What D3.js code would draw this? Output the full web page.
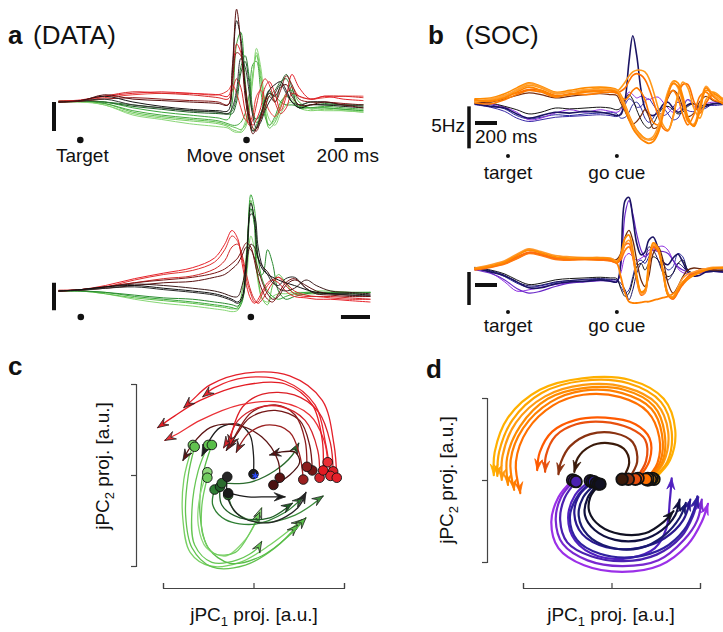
<!DOCTYPE html>
<html><head><meta charset="utf-8">
<script src="https://cdn.jsdelivr.net/npm/d3@7"></script>
<style>body{margin:0;background:#fff}svg{display:block}</style>
</head><body>
<svg id="fig" width="723" height="632"></svg>
<script>
// ================= DATA =================
// Panel a (DATA): time (ms, relative to movement onset) and firing-rate deviations (Hz)
const timesA1 = [-1320,-1170,-1000,-800,-600,-400,-200,-130,-100,-70,-40,-10,20,45,70,100,130,160,200,240,280,320,370,450,550,680,820];
const seriesA1 = [
  [0,0.3,-1,-4,-5.5,-6.5,-7.5,-8.5,-9.5,-10,-10.5,-9,-3,8,17,10,-2,-8,-6,-1,2,1,-2,-3,-2.5,-3,-3.5],
  [0,0,-0.5,-3.5,-5,-6,-7,-8,-8.5,-9,-9.5,-8,-1,10,16,8,-3,-9,-7,-2,3,4,0,-2,-2,-2.5,-3],
  [0.3,0.3,-0.5,-3,-4.5,-5.5,-6.5,-7.5,-8,-8,-7,-4,3,13,14,4,-5,-8,-5,0,2,0,-2,-2,-1.5,-2,-2.5],
  [0,0,-1,-4.5,-6,-7.5,-8.5,-9,-10,-10.5,-10,-7,0,9,18.5,12,0,-6,-8,-4,-1,0,-1,-2.5,-3,-3,-3.5],
  [0,0.3,0,-2,-3.5,-4.5,-5.5,-6,0,20,24,8,-6,-10,-8,-4,0,3,2,0,-1,-1,-1.5,-2,-2,-2.5,-3],
  [0.3,0.5,0,-1.5,-2.5,-3.5,-4,-4.2,-4,0,10,14,6,-4,-6,-4,1,4,0,6,9.5,5,-2,-1,-1,-1,-1.5],
  [0,0.3,0,-1,-2,-3,-3.5,-4,-3,2,12,16,8,-3,-7,-6,-2,2,4,7,8,3,-1,0,-0.5,-1,-1],
  [0.3,0.5,1.5,2.5,3,3,2.5,4,6,3,-2,-6,-7,-4,2,4,1,-3,-5,-2,3,5,2,1,1.5,2,2],
  [0,0.5,2,3.5,3,2.5,1.5,1,4,8,5,-3,-8,-6,-1,5,8,6,0,-4,-2,3,2,1,2,2,1.5],
  [0.3,0.7,2,3,3.5,3,2.5,2,8,20,17,4,-5,-8,-6,-2,5,7,3,-3,2,9.5,5,1,2,1,0.5],
  [0,0.3,1,1.5,1,0.5,0,-1,6,17,16,6,-4,-9,-10,-6,-2,2,0,4,9,6,1,0,0,-0.5,-1],
  [0,0.3,1,-1,-2,-3,-3.5,-4,-2,4,15,12,3,-5,-9,-7,-3,0,3,6,3,0,-1,0,0,-1,-1],
  [0,0.5,2,0,-1.5,-2.5,-3,-3,10,28,22,5,-6,-10,-9,-5,0,4,6,7,4,0,-2,-1,-1,-1.5,-2],
  [0,0.3,2.5,1,0.5,0,-0.5,-1,12,32,20,2,-7,-11,-9,-5,0,3,2,5,6,2,-1,-1,0,-1,-2]
];
const timesA2 = [-1320,-1170,-1000,-800,-600,-400,-250,-180,-130,-90,-60,-30,0,25,50,80,115,150,190,240,300,380,450,550,680,820];
const seriesA2 = [
  [0,0,-1,-3,-4.5,-5.5,-6.5,-7,-7.5,-7,-3,5,20,15,3,-3,-4,-2,-1,-1,-0.5,-0.5,0,0,-0.5,-0.5],
  [0,0,-1,-2.5,-3.5,-4.5,-5.5,-6,-6.5,-6,0,14,33,24,5,-3,-5,2,6,3,-1,-1,-1,-0.5,-0.5,-0.5],
  [0,0,-0.5,-2,-3,-4,-5,-5.5,-6,-6.5,-4,10,35,30,12,4,0,-2,-3,-2,-1,-0.5,-0.5,-1,-1,-0.5],
  [0,0,-0.5,-1.5,-2.5,-3,-4,-4.5,-5,-5.5,-3,8,30,24,6,6,15,10,0,-3,-2,-1,-0.5,-0.5,-0.5,-0.5],
  [0,0.5,2,4.5,6.5,8.5,12,17,22,19,10,2,-3,-4.5,-3,0,3,4,3,0,-2,-2.5,-3,-3,-3.5,-4],
  [0,0.5,1.5,4,6,7.5,10.5,15,20,18,12,4,-1,-4,-4,-1,2,4,5,2,-1,-2,-2,-2.5,-3,-3],
  [0.3,0.5,1.5,3,4.5,5.5,8,11,16,17,13,6,0,-3,-4.5,-3,0,3,5,3,0,-1.5,-2,-2,-2.5,-3],
  [0,0.5,1.5,3,4,5,6.5,8,10,12,15,17.5,16,11,5,0,-3,-4,-1,3,4.5,1,-1,-1.5,-2,-2],
  [0,0.3,1,2,3,3.5,5,6,8,10,13,16,15,12,8,3,-1,-3,-2,2,4,2,0,-1,-1.5,-2],
  [0,0.5,1.5,2.5,2,1,0,-1,-2,-2,2,10,17,16,12,9,7,4,1,0,1,4,2,0,-0.5,-1],
  [0,0.3,1,1.5,0.5,-0.5,-1.5,-2.5,-3.5,-4.5,-3,8,28,27,16,9,6,3,2,4.5,5,1,-1,-1,-1.5,-1.5],
  [0,0.5,1.5,2,1,0,-1,-2,-3,-4,-2,12,32,26,12,8,6,5,4,3,2,0.5,-0.5,-1,-1,-1.5]
];
const eventsA = [-1170, 0];              // target, movement onset (ms)
const eventLabelsA = ["Target", "Move onset"];
const scaleBarMs = 200, scaleBarHzA = 10;

// Panel b (SOC): time (ms, relative to go cue) and rates (Hz)
const timesB = [-1290,-1150,-1020,-910,-800,-690,-560,-430,-290,-150,-60,0,35,75,110,145,180,220,255,290,330,375,420,465,510,555,600,645,700,755,810,875,965];
const seriesB1 = [
  [0.1,-0.2,-0.7,-1.5,-1.9,-1.7,-1.4,-1.5,-1.3,-1.2,-1.1,-1.3,-1.8,-1.7,-1.1,-0.2,0.1,-0.6,-1.8,-2.3,-1.8,-0.8,-0.6,-1.3,-2.0,-1.8,-0.6,0.4,-0.1,-0.8,-0.6,-0.1,0],
  [-0.2,-0.5,-1.0,-1.8,-2.2,-2.0,-1.7,-1.6,-1.5,-1.4,-1.5,-1.6,-1.2,-0.2,0.5,0.2,-0.5,-0.4,0.2,0.5,-0.2,-1.0,-1.5,-1.2,-0.5,0.1,-0.3,-0.9,-1.0,-0.4,-0.2,-0.3,-0.2],
  [0,-0.1,-0.5,-1.1,-2.0,-1.8,-1.2,-0.8,-1.1,-0.8,-1.0,-1.1,-0.8,0.4,1.3,1.0,0.6,0.8,0.7,0.4,0.6,0.7,0.1,-0.6,-1.1,-0.8,-0.1,0.4,-0.4,-0.8,-0.1,0.1,0],
  [0.2,0,-0.4,-0.8,-1.3,-1.1,-0.6,-0.7,-0.6,-0.5,-0.6,-0.8,-0.6,0.4,1.0,0.4,-0.8,-2.0,-2.7,-3.0,-2.5,-1.4,-0.6,-0.4,-0.8,-1.3,-1.1,-0.4,-0.1,-0.4,-0.2,-0.1,0],
  [-0.1,-0.4,-0.6,-1.3,-1.8,-1.5,-1.1,-1.2,-1.0,-1.1,-1.3,-1.5,-1.4,0.4,4.9,8.0,5.7,1.5,-0.6,-1.3,-1.5,-1.1,-0.2,0.1,-0.6,-1.1,-0.8,-0.2,-0.1,-0.6,-0.4,-0.1,-0.1],
  [0,0.1,0.5,0.9,1.2,1.0,0.6,0.8,1.0,1.1,1.0,0.9,0.0,-1.0,-2.0,-2.5,-2.2,-1.5,-0.8,-1.6,-3.0,-2.8,-1.0,0.6,1.5,1.0,-0.5,-1.6,-1.2,0.2,0.8,0.3,0.0],
  [0,-0.1,0.4,1.0,1.5,1.3,0.7,1.1,1.0,1.2,1.3,1.2,0.8,0.4,0.8,1.5,1.8,1.3,0.4,-1.1,-2.3,-2.6,-1.1,0.8,1.5,0.6,-1.4,-2.6,-1.4,0.8,1.3,0.4,0.1],
  [0.3,0.3,0.9,1.2,1.6,1.5,0.9,1.0,1.4,1.5,1.5,1.2,1.4,1.8,2.6,3.3,3.5,3.3,2.8,1.8,0.3,-1.5,-3.0,-3.3,-1.6,0.8,2.2,2.2,0.2,-1.2,0.0,1.0,0.5],
  [0.1,0.4,0.7,1.5,2.1,1.8,1.1,1.3,1.5,1.8,1.7,1.4,1.8,2.5,3.2,3.7,3.9,3.9,3.7,3.0,1.5,-0.6,-2.6,-3.2,-1.8,1.0,2.5,1.8,-0.6,-1.8,0.4,1.3,0.4],
  [0.5,0.6,1.1,1.8,2.4,2.0,1.3,1.5,1.8,1.9,1.8,1.6,1.0,-0.2,-1.4,-2.4,-3.2,-3.8,-4.2,-4.4,-4.3,-3.2,-1.0,1.2,2.6,2.4,0.8,-1.6,-2.8,-1.0,1.5,1.2,0.3],
  [0.2,0.5,0.9,1.6,2.3,1.9,1.2,1.3,1.6,1.6,1.7,1.5,0.8,-0.4,-1.6,-2.6,-3.4,-4.0,-4.3,-4.3,-4.0,-2.8,-0.8,1.4,2.5,1.8,0.0,-2.2,-2.5,-0.2,2.0,1.0,0.2],
  [0.4,0.2,0.6,1.3,1.9,1.5,0.8,1.0,1.3,1.4,1.5,1.3,0.4,-0.8,-2.0,-3.0,-3.7,-4.3,-4.6,-4.8,-4.6,-3.6,-1.4,1.0,2.3,2.0,0.4,-2.0,-2.7,-0.6,1.8,0.8,-0.1]
];
const seriesB2 = [
  [0.1,-0.4,-1.8,-3.2,-3.0,-2.6,-2.2,-1.9,-1.7,-1.6,-1.6,-1.7,-0.5,2.0,2.5,2.0,1.5,1.8,2.2,3.0,3.2,3.5,3.6,3.0,1.5,0.2,-0.4,-0.6,-0.6,-0.4,-0.3,-0.2,-0.2],
  [0.2,-0.2,-1.0,-2.0,-2.6,-2.4,-1.9,-1.6,-1.5,-1.4,-1.5,-1.6,-2.5,-3.5,-3.0,-1.0,1.0,1.5,1.0,2.0,3.5,3.0,1.0,0.0,0.5,2.5,2.0,0.0,-0.5,-0.3,-0.2,-0.2,-0.3],
  [0.4,0.0,-0.6,-1.5,-2.2,-2.0,-1.5,-1.3,-1.2,-1.1,-1.2,-1.3,-2.8,-4.0,-3.5,-1.5,0.5,1.0,0.0,1.0,2.0,1.5,0.0,-1.0,-0.5,1.0,1.5,0.0,-0.5,-0.3,-0.1,0,-0.2],
  [0.2,-0.1,-0.8,-1.8,-2.4,-2.3,-1.8,-1.6,-1.4,-1.3,-1.4,-1.5,-2.0,-3.0,-4.5,-3.0,-0.5,1.0,1.5,3.5,3.0,1.5,-0.5,-1.5,-0.5,1.0,0.5,-0.3,-0.4,-0.2,0,0,-0.1],
  [0,-0.5,-1.5,-2.8,-3.5,-3.2,-2.5,-2.0,-1.8,-1.6,-1.7,-1.8,0.5,8.5,10.5,8.5,5.5,3.0,2.0,2.5,3.0,2.8,2.8,2.5,1.5,0.5,0,-0.3,-0.5,-0.5,-0.3,-0.2,-0.3],
  [0.3,-0.3,-0.9,-1.8,-2.7,-2.7,-2.1,-1.8,-1.7,-1.5,-1.7,-1.8,1.2,10.5,11.0,7.9,4.1,2.3,2.7,4.5,5.0,3.3,1.2,0.8,1.8,2.4,1.2,-0.3,-0.9,-0.8,-0.3,-0.2,-0.3],
  [0.3,0.5,1.0,1.8,2.6,2.3,1.8,1.7,1.6,1.7,1.7,1.6,2.5,5.0,6.0,4.5,1.5,-1.5,-2.5,-1.0,2.5,3.5,1.5,-2.0,-3.5,-2.5,-1.0,0.0,0.3,0.2,0.1,0,0],
  [0.2,0.5,1.0,1.8,2.6,2.4,1.8,1.6,1.6,1.5,1.4,1.0,-1.0,-3.5,-4.8,-5.0,-5.0,-4.9,-4.8,-4.8,-4.6,-4.4,-4.2,-4.0,-3.6,-3.0,-2.2,-1.4,-0.8,-0.4,0,0.3,0.3],
  [0.0,0.4,0.9,1.7,2.5,2.2,1.6,1.5,1.6,1.5,1.4,1.1,1.5,3.0,3.5,2.0,-1.0,-3.4,-3.2,0.5,3.6,3.0,0.0,-3.5,-4.4,-3.2,-2.0,-1.2,-0.6,-0.2,0.1,0.3,0.4],
  [0.1,0.5,1.1,2.0,2.7,2.4,1.8,1.7,1.7,1.6,1.5,1.1,1.8,3.8,4.0,2.0,-1.5,-3.8,-3.5,0.0,3.4,2.8,-0.5,-3.8,-4.4,-3.4,-2.0,-1.0,-0.4,0,0.2,0.2,0.3],
  [0.3,0.8,1.4,2.4,3.2,2.8,2.2,2.0,1.9,1.9,1.8,1.4,2.0,4.0,4.5,2.5,-1.2,-3.6,-3.4,0.8,3.8,3.2,-0.2,-3.6,-4.0,-2.6,-1.2,-0.6,-0.3,0,0.2,0.4,0.4],
  [0.2,0.6,1.2,2.2,3.0,2.6,2.0,1.8,1.8,1.8,1.7,1.2,2.3,4.8,5.3,3.0,-0.8,-3.3,-3.0,1.2,4.1,3.3,-0.3,-3.8,-4.2,-3.0,-1.8,-1.2,-0.8,-0.3,0,0.3,0.3]
];
const eventsB = [-990, 0];                // target, go cue (ms)
const eventLabelsB = ["target", "go cue"];
const scaleBarHzB = 5;

// Panel c: jPC projections (a.u.) of the data, one trajectory per condition
const trajC = [
  [[-6.7,3.3],[-7.7,-0.5],[-7.8,-4.9],[-7.0,-8.5],[-4.8,-10.0],[-1.5,-9.6],[1.8,-7.7],[5.4,-4.9]],
  [[-6.5,3.1],[-7.2,0],[-7.5,-4.4],[-6.8,-8.0],[-4.6,-10.1],[-0.9,-9.9],[2.4,-8.0],[4.9,-5.5]],
  [[-5.0,3.3],[-6.1,0.5],[-6.8,-3.8],[-6.5,-7.7],[-4.6,-9.6],[-1.7,-9.3],[0.5,-8.0],[0.9,-7.3]],
  [[-4.6,3.3],[-5.6,0],[-5.9,-4.4],[-5.0,-8.0],[-2.6,-9.7],[0.9,-8.9],[4.0,-6.6],[5.8,-4.7]],
  [[-5.1,0.3],[-5.9,-2.2],[-6.1,-5.5],[-5.2,-8.0],[-3.1,-8.9],[-0.9,-7.1],[0.4,-4.9],[0.9,-3.6]],
  [[-5.1,-0.3],[-5.7,-3.3],[-5.6,-6.6],[-4.4,-8.6],[-2.0,-8.5],[-0.2,-6.0],[0.7,-4.1]],
  [[-4.3,-1.6],[-4.5,-3.3],[-3.1,-4.9],[0.2,-5.4],[3.5,-4.1],[5.5,-2.4]],
  [[-3.7,-1.3],[-3.5,-3.3],[-1.5,-4.7],[1.8,-4.7],[4.3,-3.1]],
  [[-2.8,-2.2],[-2.0,-4.1],[0.7,-5.2],[4.6,-4.4],[7.7,-2.3]],
  [[-3.5,-0.9],[-0.4,-0.8],[2.4,0.5],[4.3,2.2],[5.0,3.5]],
  [[-2.8,-2.0],[-0.6,-2.4],[1.6,-2.4],[3.5,-2.4]],
  [[-2.9,-0.2],[-2.8,-2.7],[-1.2,-4.7],[2.0,-5.2],[4.9,-3.6],[5.8,-1.9]],
  [[0,0.1],[0,2.2],[-0.4,4.4],[-1.7,5.6],[-3.7,5.2],[-5.0,3.6],[-5.7,2.1]],
  [[2.2,-1.1],[4.0,0],[5.1,1.4],[4.6,2.5],[2.9,2.5],[1.8,2.2]],
  [[2.9,-0.3],[2.7,1.6],[0.9,4.2],[-2.0,5.5],[-4.8,5.2],[-6.8,3.3],[-7.8,1.6]],
  [[5.5,-0.5],[5.1,2.2],[4.0,4.7],[1.8,5.5],[-0.4,4.7],[-1.5,3.3],[-1.9,2.5]],
  [[6.5,0.5],[6.2,3.3],[5.1,6.0],[2.4,7.1],[-0.4,6.3],[-1.9,4.4],[-3.0,2.7]],
  [[5.9,0.9],[5.7,3.8],[4.6,6.6],[2.4,7.7],[-0.2,6.9],[-1.7,4.9],[-2.6,3.1]],
  [[7.3,-0.3],[7.1,2.7],[5.7,6.0],[3.1,7.5],[0.5,7.4],[-1.7,6.0],[-2.8,3.8],[-3.3,3.0]],
  [[8.8,0.4],[8.5,3.5],[7.2,6.9],[4.5,8.8],[1.0,8.9],[-1.2,7.5],[-2.3,5.0],[-2.6,3.2]],
  [[8.2,1.4],[7.8,3.8],[6.2,6.6],[2.9,8.0],[-1.5,7.7],[-5.9,6.0],[-8.1,4.7],[-9.8,3.8]],
  [[7.7,0.5],[7.6,3.8],[6.5,7.7],[3.5,10.0],[-0.9,9.9],[-5.9,8.2],[-8.7,6.5],[-10.6,5.2]],
  [[8.5,-0.1],[8.0,3.3],[6.8,7.7],[3.5,10.3],[-0.9,10.7],[-4.3,9.6],[-5.6,8.6]],
  [[9.2,-0.3],[8.9,3.3],[7.6,8.2],[4.0,10.9],[-0.9,11.2],[-4.8,9.9],[-6.8,8.2],[-7.7,7.4]]
];
const starC = [0.2, -0.1];

// Panel d: jPC projections (a.u.) of the SOC model
const trajD = [
  [[4.8,0.1],[6.6,2.4],[7.2,6.1],[5.9,9.9],[2.1,12.2],[-3.3,12.4],[-8.1,11.0],[-11.7,7.6],[-13.2,3.4],[-13.3,0.6]],
  [[4.6,0.2],[6.3,2.2],[6.8,5.9],[5.6,9.5],[1.9,11.8],[-3.2,12.1],[-7.9,10.6],[-11.2,7.3],[-12.7,3.4],[-12.9,0.5]],
  [[4.4,0.1],[5.9,2.2],[6.4,5.9],[5.1,9.3],[1.6,11.3],[-3.2,11.6],[-7.5,10.2],[-10.8,7.0],[-12.3,3.0],[-12.4,0]],
  [[4.1,0],[5.7,2.1],[6.0,5.7],[4.8,9.0],[1.4,11.0],[-3.2,11.2],[-7.2,9.9],[-10.3,6.6],[-11.8,2.7],[-11.7,-0.6]],
  [[4.1,0.2],[5.5,2.2],[5.7,5.6],[4.5,8.7],[1.2,10.6],[-3.2,10.9],[-6.9,9.5],[-10.0,6.3],[-11.4,2.4],[-11.0,-1.2]],
  [[3.9,0.1],[5.2,2.1],[5.4,5.2],[4.1,8.3],[1.0,10.1],[-3.2,10.4],[-6.6,9.1],[-9.5,6.1],[-10.8,2.2],[-10.3,-1.6]],
  [[3.0,0.2],[4.3,2.4],[4.3,5.1],[2.7,6.8],[-0.7,7.6],[-4.1,7.3],[-6.7,5.9],[-8.1,3.4],[-8.4,1.2]],
  [[2.7,0.1],[3.9,2.3],[3.8,4.9],[2.1,6.3],[-1.0,7.1],[-4.0,6.8],[-6.3,5.4],[-7.4,3.0],[-7.5,1.0]],
  [[1.9,0.1],[2.9,2.2],[2.4,4.6],[0.4,5.7],[-2.4,5.6],[-4.7,4.1],[-5.7,2.2],[-6.0,0.7]],
  [[1.2,0.1],[2.0,2.1],[1.4,3.8],[-0.4,4.5],[-2.4,4.1],[-3.8,2.7],[-4.2,1.0]],
  [[-4.4,0],[-6.0,-2.1],[-6.8,-5.1],[-6.0,-8.3],[-3.1,-10.4],[1.2,-11.2],[5.5,-10.4],[8.6,-7.9],[10.2,-5.1],[10.9,-2.9]],
  [[-4.2,-0.1],[-5.7,-2.1],[-6.3,-4.9],[-5.5,-7.8],[-2.7,-9.8],[1.2,-10.5],[5.3,-9.8],[8.2,-7.3],[9.7,-4.9],[10.2,-2.4]],
  [[-4.0,-0.2],[-5.3,-2.2],[-5.8,-4.9],[-5.0,-7.6],[-2.3,-9.3],[1.4,-9.9],[5.1,-9.1],[7.9,-6.9],[9.2,-4.4],[9.8,-2.1]],
  [[-2.4,-0.1],[-4.1,-1.8],[-4.9,-4.6],[-4.1,-7.4],[-1.5,-9.3],[2.1,-9.5],[4.9,-8.3],[6.2,-5.9],[6.6,-2.4],[6.8,0.2]],
  [[-2.2,-0.2],[-3.8,-1.9],[-4.7,-4.5],[-3.9,-7.3],[-1.3,-9.0],[2.5,-9.4],[5.9,-8.3],[8.2,-6.1],[9.3,-3.7],[9.7,-2.0]],
  [[-2.0,-0.2],[-3.6,-1.8],[-4.2,-4.1],[-3.3,-6.6],[-0.6,-8.2],[3.0,-8.3],[6.0,-7.1],[8.1,-4.9],[8.9,-2.4]],
  [[-1.7,-0.4],[-3.2,-2.1],[-3.7,-4.4],[-2.7,-6.7],[-0.2,-8.2],[3.2,-8.3],[5.9,-6.8],[7.7,-4.6],[8.4,-2.8]],
  [[-1.5,-0.5],[-2.7,-2.2],[-3.0,-4.3],[-1.9,-6.1],[0.4,-7.3],[3.4,-7.3],[5.7,-6.1],[7.2,-4.3],[7.7,-2.4]],
  [[-1.3,-0.5],[-2.4,-2.1],[-2.5,-3.9],[-1.3,-5.6],[1.0,-6.6],[3.8,-6.5],[5.9,-5.1],[7.0,-3.8]]
];
const jpcTicks = [-10, 0, 10];

// ================= STYLE =================
const colorsA1 = ["#7ccf66","#5fc24f","#45a83d","#8ad678","#3aa63a","#1f5e26","#2e7a32","#e8403a","#d42a2a","#e3202a","#8a1818","#333333","#161616","#5a1010"];
const widthsA1 = colorsA1.map(()=>1.0);
const colorsA2 = ["#86d774","#5cbf4a","#3aa83a","#2a8a30","#e8222a","#e03030","#d02828","#7a1515","#5a1212","#3a1a1a","#2a2a2a","#111111"];
const widthsA2 = colorsA2.map(()=>1.0);
const colorsB1 = ["#2b2b9e","#3a2aa8","#8e2de2","#141414","#1b1464","#7a3010","#ff7b00","#ff7000","#ff9a1a","#ff8c00","#ffa033","#ff8400"];
const widthsB1 = [1.0,1.0,1.0,1.0,1.6,1.2,1.6,1.6,1.6,1.6,1.6,1.8];
const colorsB2 = ["#8e2de2","#2b2b9e","#141414","#1b1464","#6a28c8","#1b1464","#6a2a10","#ff8000","#ff7a10","#ff6a10","#ff9a30","#ff8c00"];
const widthsB2 = [1.0,1.0,1.0,1.0,1.2,1.6,1.3,1.8,1.6,1.6,1.6,1.8];
const colorsC = ["#79d064","#62c24f","#66c653","#58bd48","#8ed87a","#70cc5e","#2f7f34","#1f5e26","#3c8c3c","#2b6b2e","#1a1a1a","#262626","#1e1e1e","#4a1212","#5c1414","#9a2020","#731616","#8c1c1c","#d4222a","#dc1f26","#ea3036","#e31b23","#e8262e","#e4202a"];
const colorsD = ["#ffb000","#ffa500","#ff9a10","#ff8c00","#ff7f00","#ff7000","#ff5a00","#e8500e","#8a3210","#3a1a0a","#9b30e8","#7a28d0","#4a20b0","#5020c0","#3020a0","#2a1890","#1a1a70","#101040","#111122"];
const FONT = '"Liberation Sans", Arial, Helvetica, sans-serif';

// ================= DRAW =================
const svg = d3.select("#fig").style("font-family", FONT);

function tracePanel(times, series, colors, widths, xRange, yBase, pxPerUnit) {
  const g = svg.append("g");
  const x = d3.scaleLinear().domain([times[0], times[times.length - 1]]).range(xRange);
  const y = d3.scaleLinear().domain([0, 1]).range([yBase, yBase - pxPerUnit]);
  const line = d3.line().x((d, i) => x(times[i])).y(d => y(d)).curve(d3.curveCatmullRom.alpha(0.5));
  g.selectAll("path").data(series).join("path")
    .attr("d", line).attr("fill", "none")
    .attr("stroke", (d, i) => colors[i]).attr("stroke-width", (d, i) => widths[i])
    .attr("stroke-linejoin", "round").attr("stroke-linecap", "round");
  return { x, y, g };
}
function bar(x1, y1, x2, y2, w) {
  svg.append("line").attr("x1", x1).attr("y1", y1).attr("x2", x2).attr("y2", y2)
    .attr("stroke", "#111").attr("stroke-width", w);
}
function txt(x, y, s, size, anchor, weight) {
  return svg.append("text").attr("x", x).attr("y", y).attr("font-size", size)
    .attr("text-anchor", anchor || "start").attr("font-weight", weight || "normal")
    .attr("fill", "#111").text(s);
}

// ---- panel a
const a1 = tracePanel(timesA1, seriesA1, colorsA1, widthsA1, [59, 363], 102, 2.9);
const a2 = tracePanel(timesA2, seriesA2, colorsA2, widthsA2, [59, 370], 291, 2.75);
const tEndA = timesA1[timesA1.length - 1];
bar(54, a1.y(0), 54, a1.y(-scaleBarHzA), 4);
bar(54, a2.y(3), 54, a2.y(3 - scaleBarHzA), 4);
bar(a1.x(tEndA - scaleBarMs), 140, a1.x(tEndA), 140, 4);
bar(a2.x(tEndA - scaleBarMs), 317, a2.x(tEndA), 317, 4);
eventsA.forEach(t => {
  svg.append("circle").attr("cx", a1.x(t)).attr("cy", 140).attr("r", 3.3).attr("fill", "#111");
  svg.append("circle").attr("cx", a2.x(t)).attr("cy", 317).attr("r", 3.3).attr("fill", "#111");
});
txt(a1.x(eventsA[0]) + 2, 162, eventLabelsA[0], 19, "middle");
txt(a1.x(eventsA[1]) - 11, 162, eventLabelsA[1], 19, "middle");
txt(a1.x(tEndA - scaleBarMs) - 18, 162, scaleBarMs + " ms", 19, "start");
txt(8, 44, "a", 26, "start", "bold");
txt(33, 44, "(DATA)", 26, "start");

// ---- panel b
const b1 = tracePanel(timesB, seriesB1, colorsB1, widthsB1, [475, 723], 103, 8.4);
const b2 = tracePanel(timesB, seriesB2, colorsB2, widthsB2, [475, 723], 270, 6.6);
const t0B = timesB[0];
bar(469, b1.y(-0.4), 469, b1.y(-0.4 - scaleBarHzB), 3.5);
bar(469, b2.y(-0.3), 469, b2.y(-0.3 - scaleBarHzB), 3.5);
bar(b1.x(t0B), 123, b1.x(t0B + scaleBarMs), 123, 4);
bar(b2.x(t0B), 285, b2.x(t0B + scaleBarMs), 285, 4);
txt(465, 132, scaleBarHzB + "Hz", 19, "end");
txt(b1.x(t0B), 143, scaleBarMs + " ms", 19, "start");
eventsB.forEach((t, i) => {
  svg.append("circle").attr("cx", b1.x(t)).attr("cy", 156).attr("r", 2).attr("fill", "#111");
  svg.append("circle").attr("cx", b2.x(t)).attr("cy", 312).attr("r", 2).attr("fill", "#111");
  txt(b1.x(t), 179, eventLabelsB[i], 19, "middle");
  txt(b2.x(t), 332, eventLabelsB[i], 19, "middle");
});
txt(428, 44, "b", 26, "start", "bold");
txt(465, 44, "(SOC)", 26, "start");

// ---- trajectory panels
function arrowHead(p0, p1, L, w) {
  const dx = p1[0] - p0[0], dy = p1[1] - p0[1], n = Math.hypot(dx, dy) || 1;
  const ux = dx / n, uy = dy / n, px = -uy, py = ux;
  const bx = p1[0] - ux * L, by = p1[1] - uy * L;
  const nx = p1[0] - ux * L * 0.62, ny = p1[1] - uy * L * 0.62;
  return `M${p1[0]},${p1[1]}L${bx + px * w},${by + py * w}L${nx},${ny}L${bx - px * w},${by - py * w}Z`;
}
function trajPanel(trajs, colors, xr, yr, axX, axY, opt) {
  const g = svg.append("g");
  const x = d3.scaleLinear().domain([jpcTicks[0], jpcTicks[2]]).range(xr);
  const y = d3.scaleLinear().domain([jpcTicks[0], jpcTicks[2]]).range(yr);
  const ya = g.append("g").attr("transform", `translate(${axY},0)`)
    .call(d3.axisLeft(y).tickValues(jpcTicks).tickFormat("").tickSize(5).tickSizeOuter(5));
  const xa = g.append("g").attr("transform", `translate(0,${axX})`)
    .call(d3.axisTop(x).tickValues(jpcTicks).tickFormat("").tickSize(5).tickSizeOuter(5));
  [ya, xa].forEach(a => { a.selectAll("path,line").attr("stroke", "#444").attr("stroke-width", 1.2); });
  const line = d3.line().x(d => x(d[0])).y(d => y(d[1])).curve(d3.curveCatmullRom.alpha(0.5));
  trajs.forEach((t, i) => {
    g.append("path").attr("d", line(t)).attr("fill", "none").attr("stroke", colors[i])
      .attr("stroke-width", opt.lw).attr("stroke-linecap", "round");
    const n = t.length;
    const p1 = [x(t[n - 1][0]), y(t[n - 1][1])], p0 = [x(t[n - 2][0]), y(t[n - 2][1])];
    g.append("path").attr("d", arrowHead(p0, p1, opt.L, opt.w)).attr("fill", colors[i])
      .attr("stroke", opt.arrowStroke || colors[i]).attr("stroke-width", 0.8).attr("stroke-linejoin", "round");
  });
  trajs.forEach((t, i) => {
    g.append("circle").attr("cx", x(t[0][0])).attr("cy", y(t[0][1])).attr("r", opt.r)
      .attr("fill", colors[i]).attr("stroke", "#111").attr("stroke-width", opt.cs);
  });
  return { x, y, g };
}
const c = trajPanel(trajC, colorsC, [163, 344], [566, 384], 588, 136, { lw: 1.3, L: 11, w: 4.2, r: 4.8, cs: 0.9, arrowStroke: "#222" });
c.g.append("path").attr("d", d3.symbol(d3.symbolAsterisk, 30)())
  .attr("transform", `translate(${c.x(starC[0])},${c.y(starC[1])})`).attr("stroke", "#2a4cff").attr("stroke-width", 1.2).attr("fill", "none");
const d = trajPanel(trajD, colorsD, [523, 700], [562, 398], 588, 487, { lw: 2.2, L: 11, w: 4, r: 5.8, cs: 1.8 });

function axisLabel(xc, yc, sub, rotate) {
  const t = svg.append("text").attr("font-size", 19).attr("fill", "#111").attr("text-anchor", "middle")
    .attr("transform", rotate ? `translate(${xc},${yc}) rotate(-90)` : `translate(${xc},${yc})`);
  t.append("tspan").text("jPC");
  t.append("tspan").attr("font-size", 13).attr("dy", 5).text(sub);
  t.append("tspan").attr("dy", -5).text(" proj. [a.u.]");
}
axisLabel(254, 621, "1", false);
axisLabel(109, 466, "2", true);
axisLabel(611, 621, "1", false);
axisLabel(453, 480, "2", true);
txt(8, 375, "c", 26, "start", "bold");
txt(426, 378, "d", 26, "start", "bold");
</script>
</body></html>
